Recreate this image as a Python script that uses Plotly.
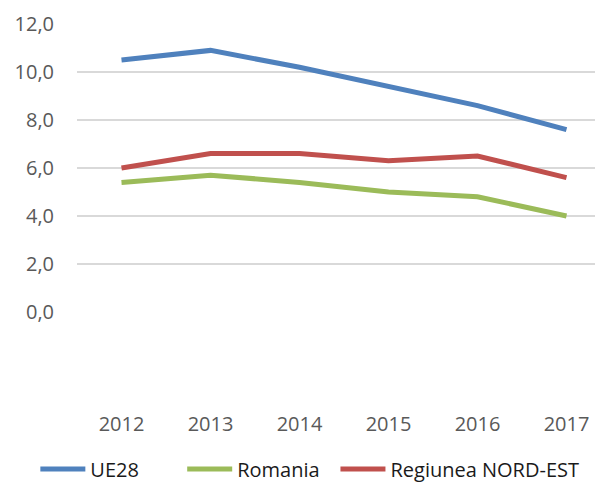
import plotly.graph_objects as go

years = ["2012", "2013", "2014", "2015", "2016", "2017"]
ue28 = [10.5, 10.9, 10.2, 9.4, 8.6, 7.6]
romania = [5.4, 5.7, 5.4, 5.0, 4.8, 4.0]
nord_est = [6.0, 6.6, 6.6, 6.3, 6.5, 5.6]
y_ticks = [0, 2, 4, 6, 8, 10, 12]

FONT = "Open Sans"
GREY = "#595959"

fig = go.Figure()
fig.add_trace(go.Scatter(x=years, y=ue28, name="UE28", mode="lines", legend="legend",
                         line=dict(color="#4f81bd", width=5)))
fig.add_trace(go.Scatter(x=years, y=romania, name="Romania", mode="lines", legend="legend2",
                         line=dict(color="#9bbb59", width=5)))
fig.add_trace(go.Scatter(x=years, y=nord_est, name="Regiunea NORD-EST", mode="lines",
                         legend="legend3", line=dict(color="#c0504d", width=5)))

def leg(x):
    return dict(orientation="h", x=x, xanchor="left", y=-0.545, yanchor="middle",
                font=dict(family=FONT, size=20, color="#1a1a1a"),
                itemwidth=45, bgcolor="rgba(0,0,0,0)")

fig.update_layout(
    width=603, height=484,
    margin=dict(l=69, r=0, t=16, b=180, autoexpand=False),
    paper_bgcolor="white", plot_bgcolor="white",
    separators=",.",
    font=dict(family=FONT, size=20, color=GREY),
    showlegend=True,
    legend=leg(-0.078),
    legend2=leg(0.197),
    legend3=leg(0.484),
    xaxis=dict(range=[-0.5, 5.5], showgrid=False, showline=False, zeroline=False,
               ticks="", tickfont=dict(size=20, color=GREY), ticklabelstandoff=98),
    yaxis=dict(range=[0, 12], tickvals=y_ticks, tickformat=".1f",
               showgrid=True, gridcolor="#d9d9d9", gridwidth=1.5,
               zeroline=False, showline=False, ticks="",
               tickfont=dict(size=20, color=GREY), ticklabelstandoff=22),
)

fig.write_html("out.html")
